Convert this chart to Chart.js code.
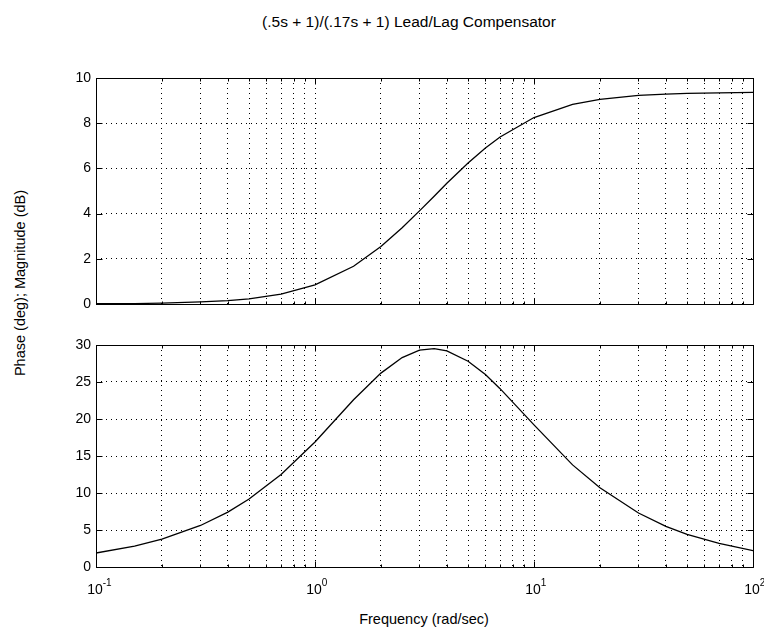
<!DOCTYPE html>
<html>
<head>
<meta charset="utf-8">
<script src="https://cdn.jsdelivr.net/npm/chart.js@4.4.0/dist/chart.umd.min.js"></script>
<style>
  html, body { margin: 0; padding: 0; background: #fff; }
  #wrap { position: relative; width: 764px; height: 635px; font-family: "Liberation Sans", Arial, sans-serif; color: #000; }
  canvas { position: absolute; left: 0; }
  .lbl { position: absolute; font-size: 14.5px; white-space: nowrap; }
</style>
</head>
<body>
<div id="wrap">
  <div class="lbl" id="title" style="left:409px; top:13px; font-size:15.5px; transform: translateX(-50%);">(.5s + 1)/(.17s + 1) Lead/Lag Compensator</div>
  <div class="lbl" id="ylabel" style="left:20px; top:283px; transform: translate(-50%, -50%) rotate(-90deg);">Phase (deg); Magnitude (dB)</div>
  <div class="lbl" id="xlabel" style="left:424px; top:611px; transform: translateX(-50%);">Frequency (rad/sec)</div>
  <canvas id="magChart" width="764" height="330" style="top:0; width:764px; height:330px;"></canvas>
  <canvas id="phaseChart" width="764" height="305" style="top:330px; width:764px; height:305px;"></canvas>
</div>
<script>
// Données
const freq = [0.1, 0.15, 0.2, 0.3, 0.4, 0.5, 0.7, 1, 1.5, 2, 2.5, 3, 3.5, 4, 5, 6, 7, 10, 15, 20, 30, 40, 50, 70, 100];
const magnitude = [0.01, 0.02, 0.04, 0.09, 0.15, 0.23, 0.44, 0.85, 1.67, 2.54, 3.37, 4.12, 4.77, 5.34, 6.24, 6.90, 7.39, 8.25, 8.83, 9.05, 9.23, 9.29, 9.32, 9.34, 9.36];
const phase = [1.89, 2.83, 3.76, 5.61, 7.42, 9.18, 12.5, 16.9, 22.6, 26.2, 28.3, 29.3, 29.5, 29.2, 27.8, 26.0, 24.1, 19.2, 13.8, 10.7, 7.3, 5.5, 4.4, 3.2, 2.2];

const decades = [0.1, 1, 10, 100];
const decadeExponents = ['-1', '0', '1', '2'];
const magTicks = [0, 2, 4, 6, 8, 10];
const phaseTicks = [0, 5, 10, 15, 20, 25, 30];

// positions de la grille log : 1..9 par décade
const xGrid = [];
decades.forEach(function (d, i) {
    const last = i === decades.length - 1 ? 1 : 9;
    for (let k = 1; k <= last; k++) xGrid.push(+(d * k).toPrecision(3));
});

// cadre complet + graduations intérieures (style MATLAB)
const boxTicks = {
    id: 'boxTicks',
    afterDraw(chart, args, opts) {
        const ctx = chart.ctx;
        const a = chart.chartArea;
        const x = chart.scales.x, y = chart.scales.y;
        const L = Math.round(a.left) + 0.5, R = Math.round(a.right) + 0.5;
        const T = Math.round(a.top) + 0.5, B = Math.round(a.bottom) + 0.5;
        ctx.save();
        ctx.strokeStyle = '#000';
        ctx.lineWidth = 1;
        ctx.setLineDash([]);
        ctx.beginPath();
        ctx.rect(L, T, R - L, B - T);
        xGrid.forEach(function (v) {
            const px = Math.round(x.getPixelForValue(v)) + 0.5;
            const len = decades.includes(v) ? 6 : 3;
            ctx.moveTo(px, B); ctx.lineTo(px, B - len);
            ctx.moveTo(px, T); ctx.lineTo(px, T + len);
        });
        y.ticks.forEach(function (t) {
            const py = Math.round(y.getPixelForValue(t.value)) + 0.5;
            ctx.moveTo(L, py); ctx.lineTo(L + 6, py);
            ctx.moveTo(R, py); ctx.lineTo(R - 6, py);
        });
        ctx.stroke();

        // étiquettes 10^n sous l'axe x
        if (opts.labels) {
            ctx.fillStyle = '#000';
            ctx.textBaseline = 'alphabetic';
            decades.forEach(function (d, i) {
                const px = x.getPixelForValue(d);
                ctx.font = '14px "Liberation Sans", Arial, sans-serif';
                ctx.textAlign = 'center';
                ctx.fillText('10', px - 1, B + 26);
                const w = ctx.measureText('10').width;
                ctx.font = '10px "Liberation Sans", Arial, sans-serif';
                ctx.textAlign = 'left';
                ctx.fillText(decadeExponents[i], px - 1 + w / 2, B + 18);
            });
        }
        ctx.restore();
    }
};

function makeChart(id, values, yTicks, padTop, xHeight, showX) {
    const ymax = yTicks[yTicks.length - 1];
    return new Chart(document.getElementById(id), {
        type: 'line',
        data: {
            datasets: [{
                data: freq.map(function (f, i) { return { x: f, y: values[i] }; }),
                borderColor: '#000',
                borderWidth: 1.3,
                pointRadius: 0,
                tension: 0,
                fill: false
            }]
        },
        options: {
            responsive: false,
            animation: false,
            layout: { padding: { top: padTop, left: 0, right: 11, bottom: 0 } },
            plugins: {
                legend: { display: false },
                tooltip: { enabled: false },
                boxTicks: { labels: showX }
            },
            scales: {
                x: {
                    type: 'logarithmic',
                    min: 0.1,
                    max: 100,
                    afterBuildTicks: function (s) { s.ticks = xGrid.map(function (v) { return { value: v }; }); },
                    afterFit: function (s) { s.height = xHeight; },
                    grid: { color: '#000', lineWidth: 1, drawTicks: false },
                    border: { display: false, dash: [1, 4] },
                    ticks: { display: false }
                },
                y: {
                    min: 0,
                    max: ymax,
                    afterBuildTicks: function (s) { s.ticks = yTicks.map(function (v) { return { value: v }; }); },
                    afterFit: function (s) { s.width = 96; },
                    grid: { color: '#000', lineWidth: 1, drawTicks: false },
                    border: { display: false, dash: [1, 4] },
                    ticks: {
                        padding: 5,
                        color: '#000',
                        font: { family: 'Liberation Sans', size: 14 }
                    }
                }
            }
        },
        plugins: [boxTicks]
    });
}

document.addEventListener('DOMContentLoaded', function () {
    makeChart('magChart', magnitude, magTicks, 78, 26, false);
    makeChart('phaseChart', phase, phaseTicks, 15, 68, true);
});
</script>
</body>
</html>
